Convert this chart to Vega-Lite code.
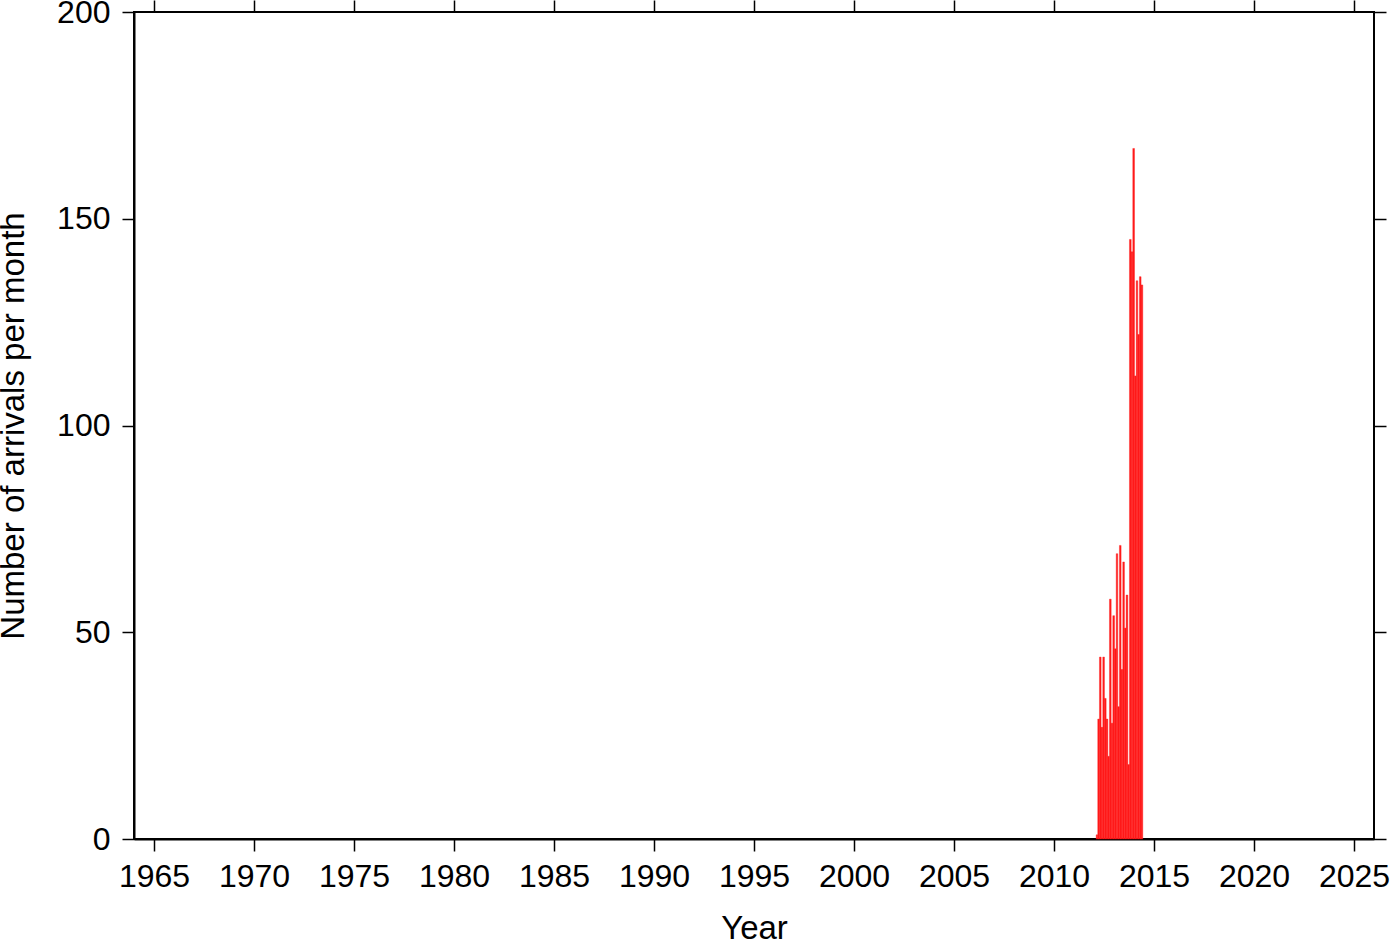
{
  "$schema": "https://vega.github.io/schema/vega-lite/v6.json",
  "width": 1240,
  "height": 827,
  "autosize": "none",
  "padding": {"left": 134, "top": 12, "right": 26, "bottom": 103},
  "background": "white",
  "config": {
    "font": "Liberation Sans",
    "view": {"stroke": "black", "strokeWidth": 2},
    "axis": {
      "grid": false,
      "domainColor": "black",
      "domainWidth": 2,
      "tickColor": "black",
      "tickWidth": 1.5,
      "tickSize": 12,
      "labelFont": "Liberation Sans",
      "labelFontSize": 32,
      "labelColor": "black",
      "titleFont": "Liberation Sans",
      "titleFontSize": 33,
      "titleFontWeight": "normal",
      "titleColor": "black"
    }
  },
  "data": {
    "values": [
      {"month": "2012-02-01", "count": 1},
      {"month": "2012-03-01", "count": 29},
      {"month": "2012-04-01", "count": 44},
      {"month": "2012-05-01", "count": 27},
      {"month": "2012-06-01", "count": 44},
      {"month": "2012-07-01", "count": 34},
      {"month": "2012-08-01", "count": 29},
      {"month": "2012-09-01", "count": 20},
      {"month": "2012-10-01", "count": 58},
      {"month": "2012-11-01", "count": 28},
      {"month": "2012-12-01", "count": 54},
      {"month": "2013-01-01", "count": 46},
      {"month": "2013-02-01", "count": 69},
      {"month": "2013-03-01", "count": 32},
      {"month": "2013-04-01", "count": 71},
      {"month": "2013-05-01", "count": 41},
      {"month": "2013-06-01", "count": 67},
      {"month": "2013-07-01", "count": 51},
      {"month": "2013-08-01", "count": 59},
      {"month": "2013-09-01", "count": 18},
      {"month": "2013-10-01", "count": 145},
      {"month": "2013-11-01", "count": 142},
      {"month": "2013-12-01", "count": 167},
      {"month": "2014-01-01", "count": 112},
      {"month": "2014-02-01", "count": 135},
      {"month": "2014-03-01", "count": 122},
      {"month": "2014-04-01", "count": 136},
      {"month": "2014-05-01", "count": 134}
    ]
  },
  "layer": [
    {
      "mark": {"type": "bar", "color": "#ff1a1a", "binSpacing": 0, "stroke": "#ff1a1a", "strokeWidth": 0.4},
      "encoding": {
        "x": {
          "field": "month",
          "timeUnit": "utcyearmonth",
          "type": "temporal",
          "scale": {
            "type": "utc",
            "domain": [
              {"year": 1964, "month": 1, "date": 1, "utc": true},
              {"year": 2026, "month": 1, "date": 1, "utc": true}
            ],
            "nice": false
          },
          "axis": {
            "orient": "bottom",
            "title": "Year",
            "values": [
              {"year": 1965, "month": 1, "date": 1, "utc": true},
              {"year": 1970, "month": 1, "date": 1, "utc": true},
              {"year": 1975, "month": 1, "date": 1, "utc": true},
              {"year": 1980, "month": 1, "date": 1, "utc": true},
              {"year": 1985, "month": 1, "date": 1, "utc": true},
              {"year": 1990, "month": 1, "date": 1, "utc": true},
              {"year": 1995, "month": 1, "date": 1, "utc": true},
              {"year": 2000, "month": 1, "date": 1, "utc": true},
              {"year": 2005, "month": 1, "date": 1, "utc": true},
              {"year": 2010, "month": 1, "date": 1, "utc": true},
              {"year": 2015, "month": 1, "date": 1, "utc": true},
              {"year": 2020, "month": 1, "date": 1, "utc": true},
              {"year": 2025, "month": 1, "date": 1, "utc": true}
            ],
            "labelExpr": "utcFormat(datum.value, '%Y')",
            "labelPadding": 10,
            "labelFlush": false,
            "labelOverlap": false,
            "titlePadding": 20
          }
        },
        "y": {
          "field": "count",
          "type": "quantitative",
          "scale": {"domain": [0, 200], "nice": false},
          "axis": {
            "orient": "left",
            "title": "Number of arrivals per month",
            "values": [0, 50, 100, 150, 200],
            "labelPadding": 12,
            "titlePadding": 26
          }
        }
      }
    },
    {
      "mark": {"type": "bar", "opacity": 0},
      "encoding": {
        "x": {
          "field": "month",
          "timeUnit": "utcyearmonth",
          "type": "temporal",
          "axis": {
            "orient": "top",
            "title": null,
            "labels": false,
            "domain": false,
            "values": [
              {"year": 1965, "month": 1, "date": 1, "utc": true},
              {"year": 1970, "month": 1, "date": 1, "utc": true},
              {"year": 1975, "month": 1, "date": 1, "utc": true},
              {"year": 1980, "month": 1, "date": 1, "utc": true},
              {"year": 1985, "month": 1, "date": 1, "utc": true},
              {"year": 1990, "month": 1, "date": 1, "utc": true},
              {"year": 1995, "month": 1, "date": 1, "utc": true},
              {"year": 2000, "month": 1, "date": 1, "utc": true},
              {"year": 2005, "month": 1, "date": 1, "utc": true},
              {"year": 2010, "month": 1, "date": 1, "utc": true},
              {"year": 2015, "month": 1, "date": 1, "utc": true},
              {"year": 2020, "month": 1, "date": 1, "utc": true},
              {"year": 2025, "month": 1, "date": 1, "utc": true}
            ]
          }
        },
        "y": {
          "field": "count",
          "type": "quantitative",
          "axis": {
            "orient": "right",
            "title": null,
            "labels": false,
            "domain": false,
            "values": [0, 50, 100, 150, 200]
          }
        }
      }
    }
  ],
  "resolve": {"axis": {"x": "independent", "y": "independent"}}
}
